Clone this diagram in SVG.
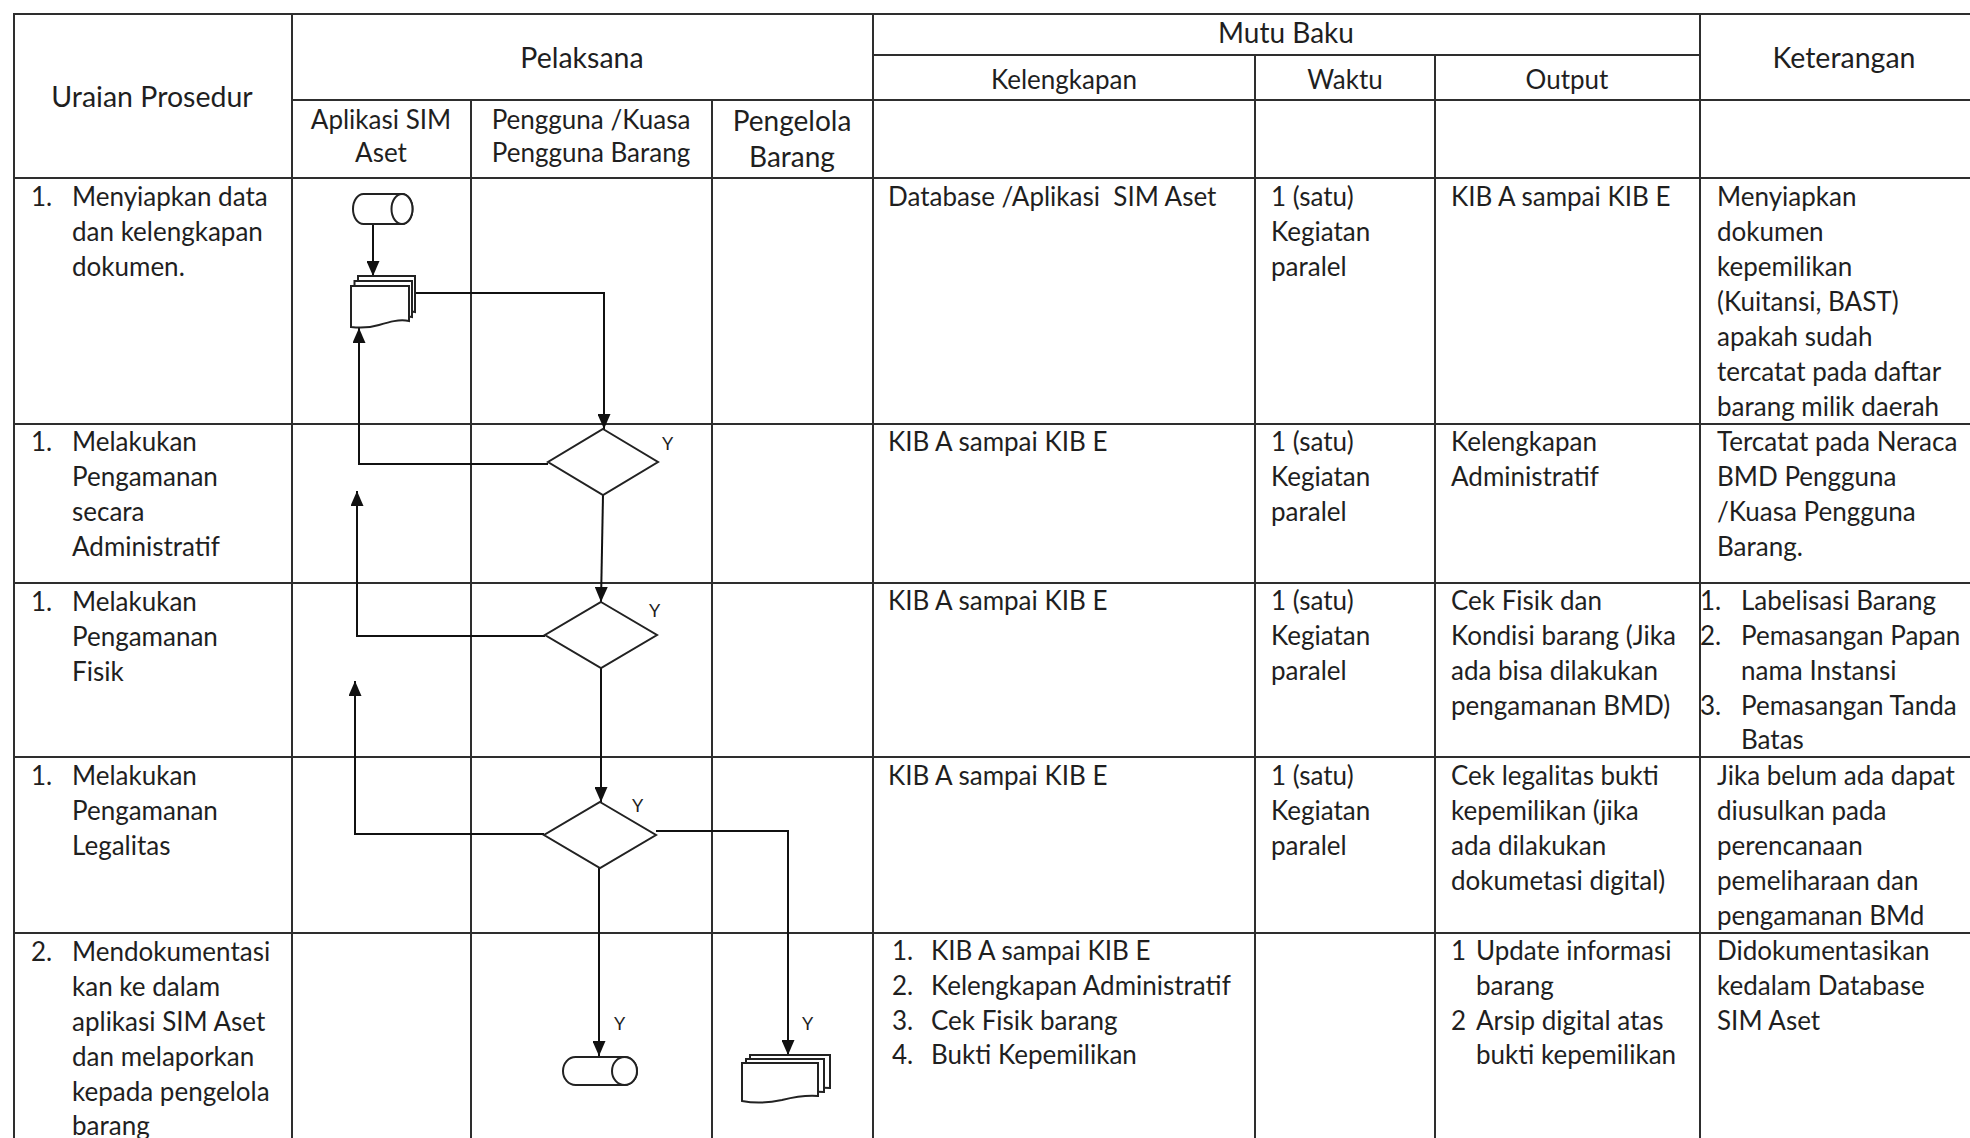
<svg xmlns="http://www.w3.org/2000/svg" width="1970" height="1138" viewBox="0 0 1970 1138">
<style>
.bg{fill:#fff}
.grid line{stroke:#2e2e2e;stroke-width:2}
text{font-family:Lato,"Open Sans","Liberation Sans",sans-serif;fill:#1f1f1f}
.h{font-size:28.5px;text-anchor:middle}
.sh{font-size:26px;text-anchor:middle}
.t{font-size:26px}
.y{font-size:18px}
.shape{fill:#fff;stroke:#222;stroke-width:2}
.conn path{fill:none;stroke:#111;stroke-width:2}
</style>
<defs>
<marker id="arr" viewBox="0 0 15 13" refX="15" refY="6.5" markerWidth="15" markerHeight="13" markerUnits="userSpaceOnUse" orient="auto">
<path d="M0,0 L15,6.5 L0,13 Z" fill="#111"/>
</marker>
</defs>
<rect class="bg" x="0" y="0" width="1970" height="1138"/>

<g id="grid" class="grid">
<line x1="13" y1="14" x2="1970" y2="14"/>
<line x1="873" y1="55" x2="1700" y2="55"/>
<line x1="292" y1="100" x2="1970" y2="100"/>
<line x1="13" y1="178" x2="1970" y2="178"/>
<line x1="13" y1="424" x2="1970" y2="424"/>
<line x1="13" y1="583" x2="1970" y2="583"/>
<line x1="13" y1="757" x2="1970" y2="757"/>
<line x1="13" y1="933" x2="1970" y2="933"/>
<line x1="14" y1="14" x2="14" y2="1138"/>
<line x1="292" y1="14" x2="292" y2="1138"/>
<line x1="471" y1="100" x2="471" y2="1138"/>
<line x1="712" y1="100" x2="712" y2="1138"/>
<line x1="873" y1="14" x2="873" y2="1138"/>
<line x1="1255" y1="55" x2="1255" y2="1138"/>
<line x1="1435" y1="55" x2="1435" y2="1138"/>
<line x1="1700" y1="14" x2="1700" y2="1138"/>
</g>

<g id="headers">
<text class="h" x="152" y="107">Uraian Prosedur</text>
<text class="h" x="582" y="68">Pelaksana</text>
<text class="h" x="1286" y="43" style="font-size:28px">Mutu Baku</text>
<text class="h" x="1844" y="68">Keterangan</text>
<text class="sh" x="1064" y="89">Kelengkapan</text>
<text class="sh" x="1345" y="89">Waktu</text>
<text class="sh" x="1567" y="89">Output</text>
<text class="sh" x="381" y="129">Aplikasi SIM</text>
<text class="sh" x="381" y="162">Aset</text>
<text class="sh" x="591" y="129">Pengguna /Kuasa</text>
<text class="sh" x="591" y="162">Pengguna Barang</text>
<text class="h" x="792" y="131" style="font-size:28px">Pengelola</text>
<text class="h" x="792" y="167" style="font-size:28px">Barang</text>
</g>

<g id="row1" class="t">
<text class="t" x="31" y="206">1.</text>
<text class="t" x="72" y="206">Menyiapkan data</text>
<text class="t" x="72" y="241">dan kelengkapan</text>
<text class="t" x="72" y="276">dokumen.</text>
<text class="t" x="888" y="206" xml:space="preserve">Database /Aplikasi  SIM Aset</text>
<text class="t" x="1271" y="206">1 (satu)</text>
<text class="t" x="1271" y="241">Kegiatan</text>
<text class="t" x="1271" y="276">paralel</text>
<text class="t" x="1451" y="206">KIB A sampai KIB E</text>
<text class="t" x="1717" y="206">Menyiapkan</text>
<text class="t" x="1717" y="241">dokumen</text>
<text class="t" x="1717" y="276">kepemilikan</text>
<text class="t" x="1717" y="311">(Kuitansi, BAST)</text>
<text class="t" x="1717" y="346">apakah sudah</text>
<text class="t" x="1717" y="381">tercatat pada daftar</text>
<text class="t" x="1717" y="416">barang milik daerah</text>
</g>

<g id="row2">
<text class="t" x="31" y="451">1.</text>
<text class="t" x="72" y="451">Melakukan</text>
<text class="t" x="72" y="486">Pengamanan</text>
<text class="t" x="72" y="521">secara</text>
<text class="t" x="72" y="556">Administratif</text>
<text class="t" x="888" y="451">KIB A sampai KIB E</text>
<text class="t" x="1271" y="451">1 (satu)</text>
<text class="t" x="1271" y="486">Kegiatan</text>
<text class="t" x="1271" y="521">paralel</text>
<text class="t" x="1451" y="451">Kelengkapan</text>
<text class="t" x="1451" y="486">Administratif</text>
<text class="t" x="1717" y="451">Tercatat pada Neraca</text>
<text class="t" x="1717" y="486">BMD Pengguna</text>
<text class="t" x="1717" y="521">/Kuasa Pengguna</text>
<text class="t" x="1717" y="556">Barang.</text>
</g>

<g id="row3">
<text class="t" x="31" y="611">1.</text>
<text class="t" x="72" y="611">Melakukan</text>
<text class="t" x="72" y="646">Pengamanan</text>
<text class="t" x="72" y="681">Fisik</text>
<text class="t" x="888" y="610">KIB A sampai KIB E</text>
<text class="t" x="1271" y="610">1 (satu)</text>
<text class="t" x="1271" y="645">Kegiatan</text>
<text class="t" x="1271" y="680">paralel</text>
<text class="t" x="1451" y="610">Cek Fisik dan</text>
<text class="t" x="1451" y="645">Kondisi barang (Jika</text>
<text class="t" x="1451" y="680">ada bisa dilakukan</text>
<text class="t" x="1451" y="715">pengamanan BMD)</text>
<text class="t" x="1700" y="610">1.</text>
<text class="t" x="1741" y="610">Labelisasi Barang</text>
<text class="t" x="1700" y="645">2.</text>
<text class="t" x="1741" y="645">Pemasangan Papan</text>
<text class="t" x="1741" y="680">nama Instansi</text>
<text class="t" x="1700" y="715">3.</text>
<text class="t" x="1741" y="715">Pemasangan Tanda</text>
<text class="t" x="1741" y="749">Batas</text>
</g>

<g id="row4">
<text class="t" x="31" y="785">1.</text>
<text class="t" x="72" y="785">Melakukan</text>
<text class="t" x="72" y="820">Pengamanan</text>
<text class="t" x="72" y="855">Legalitas</text>
<text class="t" x="888" y="785">KIB A sampai KIB E</text>
<text class="t" x="1271" y="785">1 (satu)</text>
<text class="t" x="1271" y="820">Kegiatan</text>
<text class="t" x="1271" y="855">paralel</text>
<text class="t" x="1451" y="785">Cek legalitas bukti</text>
<text class="t" x="1451" y="820">kepemilikan (jika</text>
<text class="t" x="1451" y="855">ada dilakukan</text>
<text class="t" x="1451" y="890">dokumetasi digital)</text>
<text class="t" x="1717" y="785">Jika belum ada dapat</text>
<text class="t" x="1717" y="820">diusulkan pada</text>
<text class="t" x="1717" y="855">perencanaan</text>
<text class="t" x="1717" y="890">pemeliharaan dan</text>
<text class="t" x="1717" y="925">pengamanan BMd</text>
</g>

<g id="row5">
<text class="t" x="31" y="961">2.</text>
<text class="t" x="72" y="961">Mendokumentasi</text>
<text class="t" x="72" y="996">kan ke dalam</text>
<text class="t" x="72" y="1031">aplikasi SIM Aset</text>
<text class="t" x="72" y="1066">dan melaporkan</text>
<text class="t" x="72" y="1101">kepada pengelola</text>
<text class="t" x="72" y="1135">barang</text>
<text class="t" x="892" y="960">1.</text>
<text class="t" x="931" y="960">KIB A sampai KIB E</text>
<text class="t" x="892" y="995">2.</text>
<text class="t" x="931" y="995">Kelengkapan Administratif</text>
<text class="t" x="892" y="1030">3.</text>
<text class="t" x="931" y="1030">Cek Fisik barang</text>
<text class="t" x="892" y="1064">4.</text>
<text class="t" x="931" y="1064">Bukti Kepemilikan</text>
<text class="t" x="1451" y="960">1</text>
<text class="t" x="1476" y="960">Update informasi</text>
<text class="t" x="1476" y="995">barang</text>
<text class="t" x="1451" y="1030">2</text>
<text class="t" x="1476" y="1030">Arsip digital atas</text>
<text class="t" x="1476" y="1064">bukti kepemilikan</text>
<text class="t" x="1717" y="960">Didokumentasikan</text>
<text class="t" x="1717" y="995">kedalam Database</text>
<text class="t" x="1717" y="1030">SIM Aset</text>
</g>

<g id="connectors" class="conn">
<path d="M373,224 L373,276" marker-end="url(#arr)"/>
<path d="M415,293 L604,293 L604,429" marker-end="url(#arr)"/>
<path d="M548,464 L359,464 L359,328" marker-end="url(#arr)"/>
<path d="M603,495 L601,602" marker-end="url(#arr)"/>
<path d="M545,636 L357,636 L357,491" marker-end="url(#arr)"/>
<path d="M601,668 L601,802" marker-end="url(#arr)"/>
<path d="M544,834 L355,834 L355,681" marker-end="url(#arr)"/>
<path d="M656,831 L788,831 L788,1055" marker-end="url(#arr)"/>
<path d="M599,868 L599,1056" marker-end="url(#arr)"/>
</g>

<g id="labels">
<text class="y" x="662" y="450">Y</text>
<text class="y" x="649" y="617">Y</text>
<text class="y" x="632" y="812">Y</text>
<text class="y" x="614" y="1030">Y</text>
<text class="y" x="802" y="1030">Y</text>
</g>

<g id="db-start">
<path class="shape" d="M363.5,194 L402,194 A10.5,15 0 0 1 402,224 L363.5,224 A10.5,15 0 0 1 363.5,194 Z"/>
<ellipse class="shape" cx="402" cy="209" rx="10.5" ry="15"/>
</g>

<g id="docs-start">
<path class="shape" d="M358,276 L415,276 L415,312 C405,310 395,313 385,316 C375,319 365,319 358,317 Z"/>
<path class="shape" d="M354.5,281 L412,281 L412,317 C402,315 392,318 382,321 C372,324 362,324 354.5,322 Z"/>
<path class="shape" d="M351,286 L409,286 L409,321 C399,319 389,322 379,325 C369,328 359,328 351,327 Z"/>
</g>

<g id="decision-admin">
<polygon class="shape" points="603,429 658,462 603,495 548,462"/>
</g>
<g id="decision-fisik">
<polygon class="shape" points="601,602 657,635 601,668 545,635"/>
</g>
<g id="decision-legal">
<polygon class="shape" points="600,802 656,835 600,868 544,835"/>
</g>

<g id="db-end">
<path class="shape" d="M575.5,1057 L624.5,1057 A12.5,14 0 0 1 624.5,1085 L575.5,1085 A12.5,14 0 0 1 575.5,1057 Z"/>
<ellipse class="shape" cx="624.5" cy="1071" rx="12.5" ry="14"/>
</g>

<g id="docs-end">
<path class="shape" d="M750,1055 L830,1055 L830,1088 C818,1087 806,1089 794,1092 C780,1095 762,1095 750,1092 Z"/>
<path class="shape" d="M746,1059 L824,1059 L824,1092 C812,1091 800,1093 788,1096 C774,1099 758,1099 746,1096 Z"/>
<path class="shape" d="M742,1063 L818,1063 L818,1096 C806,1095 794,1097 782,1100 C768,1103 752,1103 742,1101 Z"/>
</g>
</svg>
